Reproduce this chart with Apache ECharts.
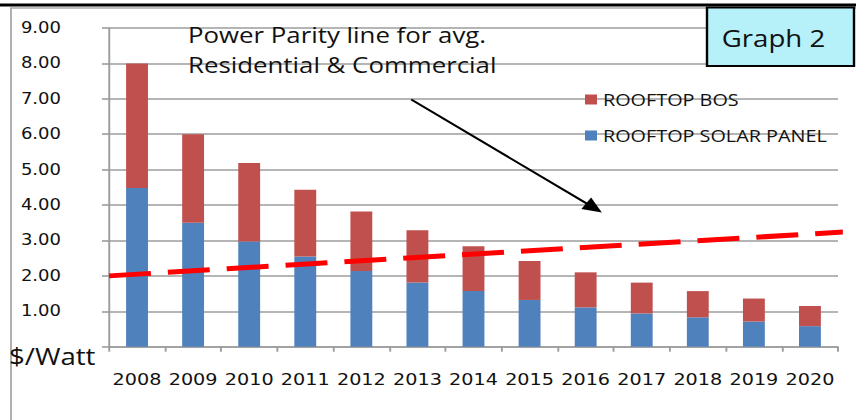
<!DOCTYPE html>
<html>
<head>
<meta charset="utf-8">
<title>Rooftop solar cost per watt</title>
<script src="https://cdn.jsdelivr.net/npm/echarts@6.0.0/dist/echarts.min.js"></script>
<style>
  html, body { margin: 0; padding: 0; background: #fff; overflow: hidden; }
  #wrap { width: 856px; height: 420px; overflow: hidden; position: relative; }
  /* the chart is laid out narrower and widened horizontally, giving the wide lettering */
  #chart { width: 713px; height: 420px; transform: scaleX(1.2006); transform-origin: 0 0; }
</style>
</head>
<body>
<div id="wrap"><div id="chart"></div></div>
<script>
// ---- data ----
const years = ['2008', '2009', '2010', '2011', '2012', '2013', '2014',
               '2015', '2016', '2017', '2018', '2019', '2020'];
const panelCost = [4.48, 3.50, 2.97, 2.55, 2.14, 1.81, 1.57, 1.32, 1.11, 0.94, 0.83, 0.71, 0.58];
const bosCost   = [3.52, 2.50, 2.22, 1.88, 1.68, 1.48, 1.27, 1.10, 0.99, 0.87, 0.74, 0.65, 0.57];
const yMin = 0, yMax = 9, yStep = 1;
// parity line, x in category units (0 = left edge of 2008, 13 = right edge of 2020)
const parityLine = [[0, 2.00], [13.32, 3.26]];
// annotation arrow, same units
const arrowFrom = [5.39, 6.98];
const arrowTo   = [8.65, 3.92];
const seriesNames = ['ROOFTOP SOLAR PANEL', 'ROOFTOP BOS'];

// ---- layout ----
const S = 1.2006;               // horizontal widening factor
const W = 713;                  // chart width before widening
const X = v => v / S;           // page px -> chart px (horizontal)
const gridColor = '#9c9c9c';
const tickFont = 'DejaVu Sans';
const textFont = 'Open Sans';

const chart = echarts.init(document.getElementById('chart'), null, { renderer: 'svg' });

chart.setOption({
  animation: false,
  backgroundColor: '#fff',
  grid: { left: X(109), right: W - X(838), top: 28, bottom: 420 - 346.7, containLabel: false },
  legend: {
    data: [seriesNames[1], seriesNames[0]],
    orient: 'vertical',
    left: X(579), top: 86,
    itemWidth: X(12), itemHeight: 10, itemGap: 19,
    icon: 'rect',
    textStyle: { fontFamily: textFont, fontSize: 16.5, color: '#111' }
  },
  xAxis: [{
    type: 'category',
    data: years,
    boundaryGap: true,
    axisLine: { lineStyle: { color: gridColor, width: 1.6 } },
    axisTick: { show: true, interval: 0, length: 5, lineStyle: { color: gridColor, width: 1.6 } },
    axisLabel: { interval: 0, margin: 25, fontFamily: tickFont, fontSize: 16, color: '#111' }
  }, {
    type: 'value', min: 0, max: 13, show: false
  }],
  yAxis: {
    type: 'value', min: yMin, max: yMax, interval: yStep,
    axisLine: { show: true, lineStyle: { color: gridColor, width: 1.6 } },
    axisTick: { show: true, length: X(7), lineStyle: { color: gridColor, width: 1.6 } },
    splitLine: { show: true, lineStyle: { color: gridColor, width: 1.6 } },
    axisLabel: {
      margin: 40, fontFamily: tickFont, fontSize: 15, color: '#111',
      formatter: v => v === 0 ? '' : v.toFixed(2)
    }
  },
  series: [{
    name: seriesNames[0], type: 'bar', stack: 'cost', data: panelCost,
    barWidth: '39%', itemStyle: { color: '#4f81bd' }
  }, {
    name: seriesNames[1], type: 'bar', stack: 'cost', data: bosCost,
    barWidth: '39%', itemStyle: { color: '#c0504d' }
  }, {
    name: 'parity', type: 'line', xAxisIndex: 1, data: parityLine,
    clip: false, symbol: 'none', z: 5, silent: true,
    lineStyle: { color: '#ff0000', width: 5, type: [X(42), X(17)], cap: 'butt' },
    markLine: {
      silent: true, symbol: ['none', 'triangle'], symbolSize: [14, 16],
      label: { show: false },
      lineStyle: { color: '#000', width: 2, type: 'solid' },
      itemStyle: { color: '#000' },
      data: [[{ coord: arrowFrom }, { coord: arrowTo }]]
    }
  }],
  graphic: [
    // outer frame
    { type: 'rect', z: -1, shape: { x: X(11), y: 8, width: 900, height: 500 },
      style: { fill: 'none', stroke: '#a8a8a8', lineWidth: 1.5 } },
    // heavy rule along the top
    { type: 'line', z: 10, shape: { x1: 0, y1: 5, x2: W, y2: 5 },
      style: { stroke: '#000', lineWidth: 3 } },
    // caption box
    { type: 'rect', z: 10, shape: { x: X(707), y: 7.5, width: X(147), height: 58.5 },
      style: { fill: '#b6f0f9', stroke: '#000', lineWidth: 2 } },
    { type: 'text', z: 11, x: X(773.5), y: 38,
      style: { text: 'Graph 2', font: '23px "Open Sans"', fill: '#111',
               textAlign: 'center', textVerticalAlign: 'middle' } },
    // annotation
    { type: 'text', z: 11, x: X(188), y: 50,
      style: { text: 'Power Parity line for avg.\nResidential & Commercial',
               font: '21.5px "Open Sans"', lineHeight: 30, fill: '#111',
               textAlign: 'left', textVerticalAlign: 'middle' } },
    // unit label
    { type: 'text', z: 11, x: X(9), y: 356,
      style: { text: '$/Watt', font: '23px "Open Sans"', fill: '#111',
               textAlign: 'left', textVerticalAlign: 'middle' } }
  ]
});
</script>
</body>
</html>
